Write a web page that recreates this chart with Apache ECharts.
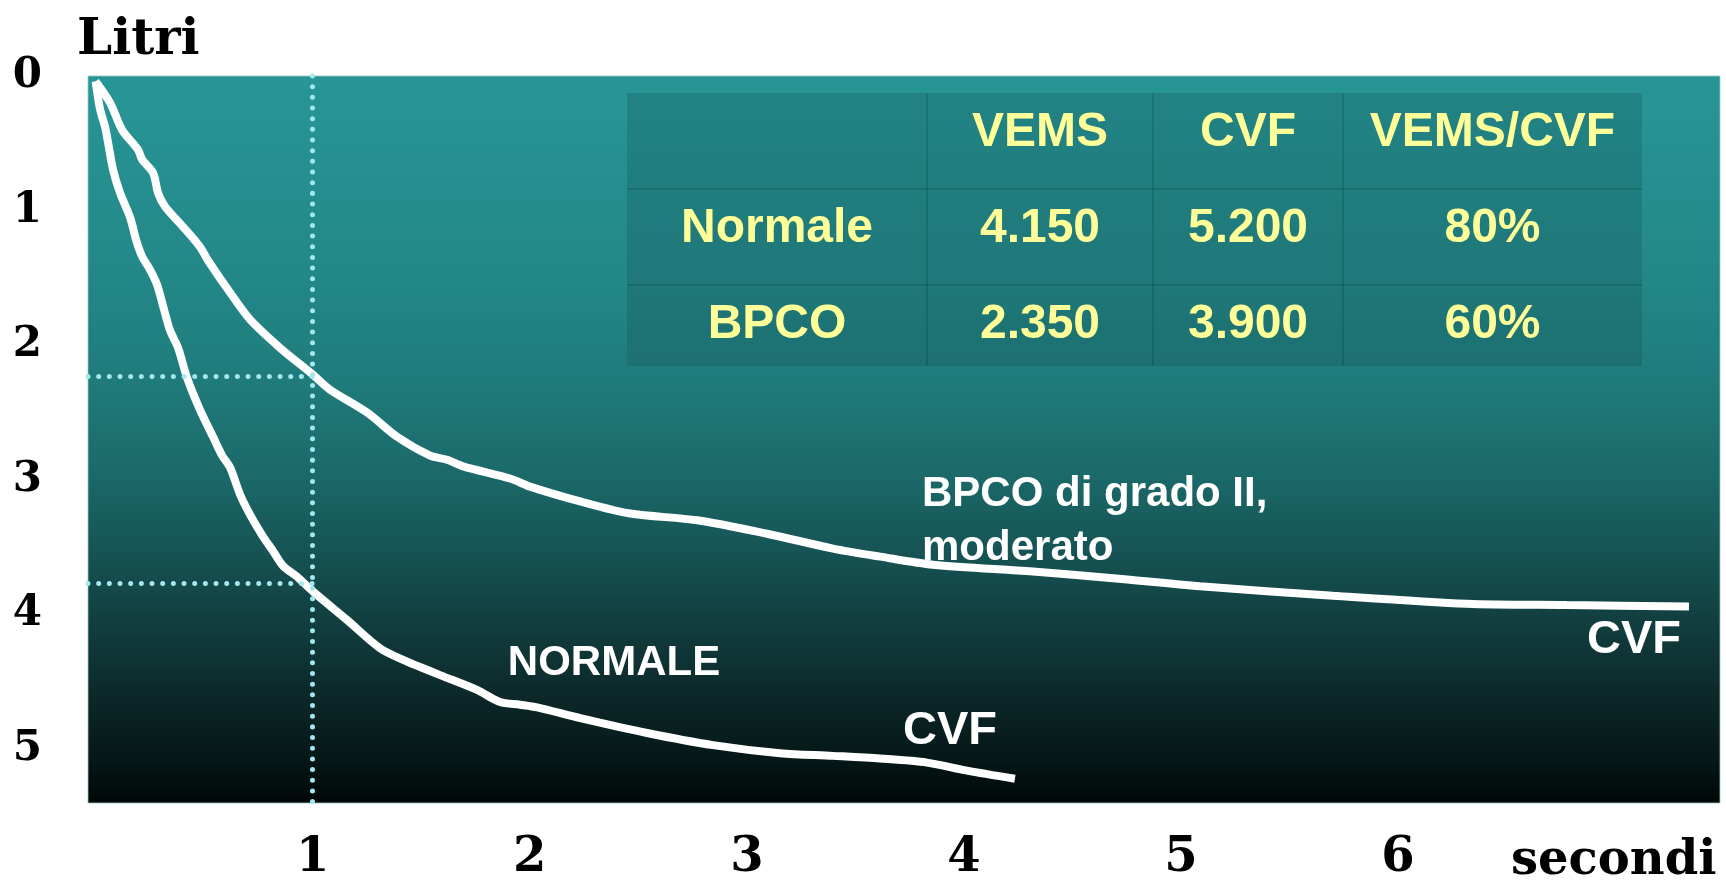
<!DOCTYPE html>
<html><head><meta charset="utf-8">
<script src="https://cdn.jsdelivr.net/npm/echarts@6/dist/echarts.min.js"></script>
<style>html,body{margin:0;padding:0;background:#fff;}#c{width:1726px;height:884px;}</style>
</head><body><div id="c"></div>
<script>
// ---- data (time in s, volume in L) ----
const normaleTempo  = [0, 0.021, 0.044, 0.058, 0.081, 0.113, 0.159, 0.187, 0.214, 0.251, 0.283, 0.316, 0.343, 0.380, 0.421, 0.481, 0.541, 0.583, 0.620, 0.666, 0.712, 0.767, 0.818, 0.864, 0.928, 1.002, 1.158, 1.310, 1.435, 1.495, 1.587, 1.757, 1.863, 1.955, 2.034, 2.233, 2.540, 2.844, 3.153, 3.397, 3.614, 3.830, 4.014, 4.235];
const normaleVolume = [0.04, 0.25, 0.38, 0.50, 0.70, 0.87, 1.05, 1.22, 1.34, 1.44, 1.55, 1.74, 1.89, 2.02, 2.24, 2.48, 2.68, 2.82, 2.91, 3.11, 3.26, 3.41, 3.53, 3.64, 3.72, 3.83, 4.04, 4.25, 4.35, 4.39, 4.45, 4.56, 4.65, 4.67, 4.69, 4.77, 4.88, 4.97, 5.03, 5.05, 5.07, 5.10, 5.16, 5.22];
const bpcoTempo  = [0, 0.067, 0.122, 0.196, 0.214, 0.265, 0.288, 0.320, 0.403, 0.481, 0.518, 0.620, 0.712, 0.850, 1.002, 1.080, 1.251, 1.389, 1.541, 1.619, 1.693, 1.909, 2.001, 2.232, 2.462, 2.771, 3.093, 3.397, 3.614, 3.858, 4.318, 4.687, 5.088, 5.700, 6.317, 6.778, 7.340];
const bpcoVolume = [0.04, 0.20, 0.40, 0.55, 0.62, 0.72, 0.87, 0.97, 1.12, 1.27, 1.37, 1.61, 1.81, 2.02, 2.22, 2.33, 2.50, 2.68, 2.82, 2.85, 2.90, 2.99, 3.05, 3.16, 3.25, 3.30, 3.40, 3.51, 3.57, 3.63, 3.68, 3.73, 3.79, 3.86, 3.92, 3.93, 3.94];
const xTickValues = [1, 2, 3, 4, 5, 6];
const yTickValues = [0, 1, 2, 3, 4, 5];
const vemsTempo = 1;
const vemsLivelli = [2.23, 3.77];
const tableHeader  = ['', 'VEMS', 'CVF', 'VEMS/CVF'];
const tableNormale = ['Normale', '4.150', '5.200', '80%'];
const tableBPCO    = ['BPCO', '2.350', '3.900', '60%'];
const noteTexts = ['NORMALE', 'CVF', 'CVF', 'BPCO di grado II,\nmoderato'];

// ---- styling ----
const SERIF = '"DejaVu Serif", serif';
const SANS = '"Liberation Sans", Arial, sans-serif';
const chart = echarts.init(document.getElementById('c'));
const bg = new echarts.graphic.LinearGradient(0, 0, 0, 1, [
  {offset: 0, color: '#289696'},
  {offset: 0.28, color: '#238787'},
  {offset: 0.41, color: '#207c7c'},
  {offset: 0.55, color: '#1b6969'},
  {offset: 0.66, color: '#165253'},
  {offset: 0.77, color: '#113a3b'},
  {offset: 0.86, color: '#0c2627'},
  {offset: 0.94, color: '#051717'},
  {offset: 1, color: '#010606'}
]);
const dotted = {color: '#a2e8ee', width: 5, type: [0.01, 10.66], cap: 'round', opacity: 1};
const XMIN = -0.035, XMAX = 7.483;

chart.setOption({
  animation: false,
  title: [
    {text: 'Litri', left: 72, top: 11, textStyle: {fontFamily: SERIF, fontWeight: 'bold', fontSize: 50, color: '#000'}},
    {text: 'secondi', left: 1506, top: 833, textStyle: {fontFamily: SERIF, fontWeight: 'bold', fontSize: 48, color: '#000'}}
  ],
  grid: {left: 88, right: 6, top: 76, bottom: 81, show: true, backgroundColor: bg,
         borderColor: 'rgba(150,195,195,0.8)', borderWidth: 1},
  xAxis: {
    type: 'value', min: XMIN, max: XMAX,
    axisLine: {show: false}, axisTick: {show: false}, splitLine: {show: false},
    axisLabel: {customValues: xTickValues, margin: 32, fontFamily: SERIF, fontWeight: 'bold', fontSize: 48, color: '#000'}
  },
  yAxis: {
    type: 'value', inverse: true, min: 0, max: 5.4,
    axisLine: {show: false}, axisTick: {show: false}, splitLine: {show: false},
    axisLabel: {customValues: yTickValues, margin: 46, fontFamily: SERIF, fontWeight: 'bold', fontSize: 42, color: '#000'}
  },
  series: [
    {
      type: 'line', name: 'BPCO', smooth: 0.3, showSymbol: false, z: 3,
      data: bpcoTempo.map((t, i) => [t, bpcoVolume[i]]),
      lineStyle: {color: '#ffffff', width: 8},
      emphasis: {disabled: true},
      markLine: {
        silent: true, symbol: ['none', 'none'], label: {show: false}, z: 6,
        lineStyle: dotted, emphasis: {disabled: true},
        data: [
          [{coord: [XMIN, vemsLivelli[0]]}, {coord: [vemsTempo, vemsLivelli[0]]}],
          [{coord: [XMIN, vemsLivelli[1]]}, {coord: [vemsTempo, vemsLivelli[1]]}],
          {xAxis: vemsTempo}
        ]
      }
    },
    {
      type: 'line', name: 'Normale', smooth: 0.3, showSymbol: false, z: 3,
      data: normaleTempo.map((t, i) => [t, normaleVolume[i]]),
      lineStyle: {color: '#ffffff', width: 8},
      emphasis: {disabled: true}
    }
  ]
});

// annotations anchored in data coordinates
const noteAnchors = [[2.388, 4.36], [3.936, 4.863], [7.087, 4.187], [3.807, 3.31]];
const noteStyle = [
  {size: 42, align: 'center'}, {size: 47, align: 'center'}, {size: 47, align: 'center'}, {size: 42, align: 'left', lh: 54}
];
const elements = [];
noteTexts.forEach((txt, i) => {
  const p = chart.convertToPixel({gridIndex: 0}, noteAnchors[i]);
  const s = noteStyle[i];
  elements.push({type: 'text', x: p[0], y: p[1], z: 10, silent: true,
    style: {text: txt, fill: '#ffffff', font: 'bold ' + s.size + 'px ' + SANS,
            align: s.align, verticalAlign: 'middle', lineHeight: s.lh || s.size}});
});

// table overlay
const tX = [627, 927, 1153, 1343, 1642];
const tY = [93, 189, 285, 366];
const tTextY = [133, 229, 325];
elements.push({type: 'rect', shape: {x: tX[0], y: tY[0], width: tX[4] - tX[0], height: tY[3] - tY[0]},
  style: {fill: 'rgba(18,70,75,0.22)'}, z: 4, silent: true});
[tY[1], tY[2]].forEach(y => elements.push({type: 'line', shape: {x1: tX[0], y1: y, x2: tX[4], y2: y},
  style: {stroke: 'rgba(10,60,60,0.3)', lineWidth: 1.5}, z: 5, silent: true}));
[tX[1], tX[2], tX[3]].forEach(x => elements.push({type: 'line', shape: {x1: x, y1: tY[0], x2: x, y2: tY[3]},
  style: {stroke: 'rgba(10,60,60,0.3)', lineWidth: 1.5}, z: 5, silent: true}));
[tableHeader, tableNormale, tableBPCO].forEach((row, r) => {
  row.forEach((cell, c) => {
    if (!cell) return;
    elements.push({type: 'text', x: (tX[c] + tX[c + 1]) / 2, y: tTextY[r], z: 6, silent: true,
      style: {text: cell, fill: '#ffff99', font: 'bold 48px ' + SANS, align: 'center', verticalAlign: 'middle'}});
  });
});
chart.setOption({graphic: {elements: elements}});
</script>
</body></html>
